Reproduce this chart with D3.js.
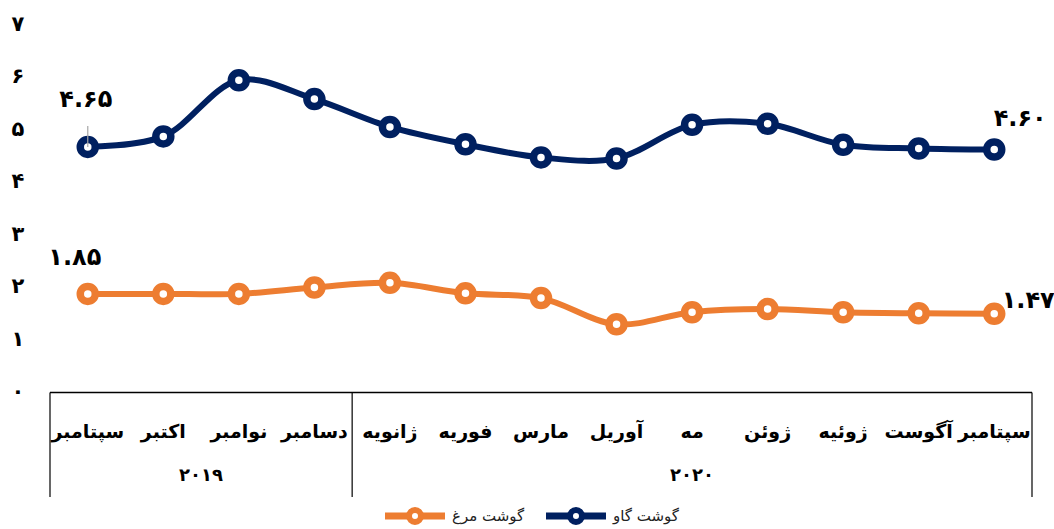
<!DOCTYPE html>
<html>
<head>
<meta charset="utf-8">
<script src="https://cdnjs.cloudflare.com/ajax/libs/d3/7.8.5/d3.min.js"></script>
<style>
  body { margin: 0; background: #fff; }
  svg text { font-family: "DejaVu Sans", sans-serif; }
</style>
</head>
<body>
<script>
// chart data
var months = ["سپتامبر", "اکتبر", "نوامبر", "دسامبر", "ژانویه", "فوریه", "مارس",
              "آوریل", "مه", "ژوئن", "ژوئیه", "آگوست", "سپتامبر"];
var beef = [4.65, 4.85, 5.92, 5.56, 5.03, 4.70, 4.45, 4.43, 5.07, 5.09, 4.69, 4.62, 4.60];
var chicken = [1.85, 1.85, 1.85, 1.97, 2.06, 1.86, 1.77, 1.27, 1.50, 1.56, 1.50, 1.48, 1.47];
var yearLabels = ["2019", "2020"];
var yearSizes = [4, 9];
var yTicks = [0, 1, 2, 3, 4, 5, 6, 7];
var beefName = "گوشت گاو";
var chickenName = "گوشت مرغ";

var width = 1054, height = 529;
var navy = "#002060", orange = "#ED7D31";

// latin digits -> persian digits
function fa(s) {
  return String(s).replace(/[0-9]/g, function(d) { return "۰۱۲۳۴۵۶۷۸۹"[+d]; });
}

var svg = d3.select("body").append("svg")
  .attr("width", width)
  .attr("height", height);

var x = d3.scaleBand()
  .domain(d3.range(months.length))
  .range([50, 1032])
  .padding(0);

var y = d3.scaleLinear()
  .domain([0, 7])
  .range([391, 23.5]);

// y tick labels
svg.append("g").selectAll("text")
  .data(yTicks)
  .enter().append("text")
  .attr("x", 18)
  .attr("y", function(d) { return y(d); })
  .attr("dy", "0.35em")
  .attr("text-anchor", "middle")
  .style("font-size", "21px")
  .style("font-weight", "bold")
  .text(function(d) { return fa(d); });

// category box under the plot
var boxTop = 392.5, boxBottom = 497;
svg.append("line")
  .attr("x1", 50).attr("x2", 1032)
  .attr("y1", boxTop).attr("y2", boxTop)
  .attr("stroke", "#000").attr("stroke-width", 1.5);

var edges = [0];
yearSizes.forEach(function(n, i) { edges.push(edges[i] + n); });

svg.append("g").selectAll("line")
  .data(edges)
  .enter().append("line")
  .attr("x1", function(d) { return d < months.length ? x(d) : x.range()[1]; })
  .attr("x2", function(d) { return d < months.length ? x(d) : x.range()[1]; })
  .attr("y1", boxTop)
  .attr("y2", boxBottom)
  .attr("stroke", "#000")
  .attr("stroke-width", 1.2);

svg.append("g").selectAll("text")
  .data(months)
  .enter().append("text")
  .attr("x", function(d, i) { return x(i) + x.bandwidth() / 2; })
  .attr("y", 431)
  .attr("dy", "0.35em")
  .attr("text-anchor", "middle")
  .style("font-size", "19px")
  .style("font-weight", "bold")
  .text(function(d) { return d; });

svg.append("g").selectAll("text")
  .data(yearLabels)
  .enter().append("text")
  .attr("x", function(d, i) {
    var a = x(edges[i]);
    var b = edges[i + 1] < months.length ? x(edges[i + 1]) : x.range()[1];
    return (a + b) / 2;
  })
  .attr("y", 475)
  .attr("dy", "0.35em")
  .attr("text-anchor", "middle")
  .style("font-size", "18px")
  .style("font-weight", "bold")
  .text(function(d) { return fa(d); });

// lines
var line = d3.line()
  .x(function(d, i) { return x(i) + x.bandwidth() / 2; })
  .y(function(d) { return y(d); })
  .curve(d3.curveCatmullRom.alpha(0.5));

function drawSeries(vals, color) {
  svg.append("path")
    .datum(vals)
    .attr("d", line)
    .attr("fill", "none")
    .attr("stroke", color)
    .attr("stroke-width", 6);
  svg.append("g").selectAll("circle")
    .data(vals)
    .enter().append("circle")
    .attr("cx", function(d, i) { return x(i) + x.bandwidth() / 2; })
    .attr("cy", function(d) { return y(d); })
    .attr("r", 7.5)
    .attr("fill", "#fff")
    .attr("stroke", color)
    .attr("stroke-width", 7.5);
}

drawSeries(chicken, orange);
drawSeries(beef, navy);

// leader line for first beef label
var cx0 = x(0) + x.bandwidth() / 2;
svg.append("line")
  .attr("x1", cx0).attr("x2", cx0)
  .attr("y1", 126).attr("y2", y(beef[0]))
  .attr("stroke", "#a6a6a6").attr("stroke-width", 1.2);

// data labels at both ends
var lastI = months.length - 1;
var labels = [
  { v: beef[0], x: cx0 - 2, y: 99 },
  { v: chicken[0], x: cx0 - 13, y: 257 },
  { v: beef[lastI], x: x(lastI) + x.bandwidth() / 2 + 26, y: 118 },
  { v: chicken[lastI], x: x(lastI) + x.bandwidth() / 2 + 34, y: 300 }
];
svg.append("g").selectAll("text")
  .data(labels)
  .enter().append("text")
  .attr("x", function(d) { return d.x; })
  .attr("y", function(d) { return d.y; })
  .attr("dy", "0.35em")
  .attr("text-anchor", "middle")
  .style("font-size", "24px")
  .style("font-weight", "bold")
  .text(function(d) { return fa(d.v.toFixed(2)); });

// legend
var legend = [
  { name: chickenName, color: orange, x0: 385 },
  { name: beefName, color: navy, x0: 546 }
];
var lg = svg.append("g").selectAll("g")
  .data(legend)
  .enter().append("g")
  .attr("transform", function(d) { return "translate(" + d.x0 + ",516)"; });
lg.append("line")
  .attr("x1", 0).attr("x2", 60)
  .attr("stroke", function(d) { return d.color; })
  .attr("stroke-width", 7);
lg.append("circle")
  .attr("cx", 30).attr("r", 6)
  .attr("fill", "#fff")
  .attr("stroke", function(d) { return d.color; })
  .attr("stroke-width", 6);
lg.append("text")
  .attr("x", 67)
  .attr("dy", "0.35em")
  .style("font-size", "15px")
  .attr("fill", "#222")
  .text(function(d) { return d.name; });
</script>
</body>
</html>
